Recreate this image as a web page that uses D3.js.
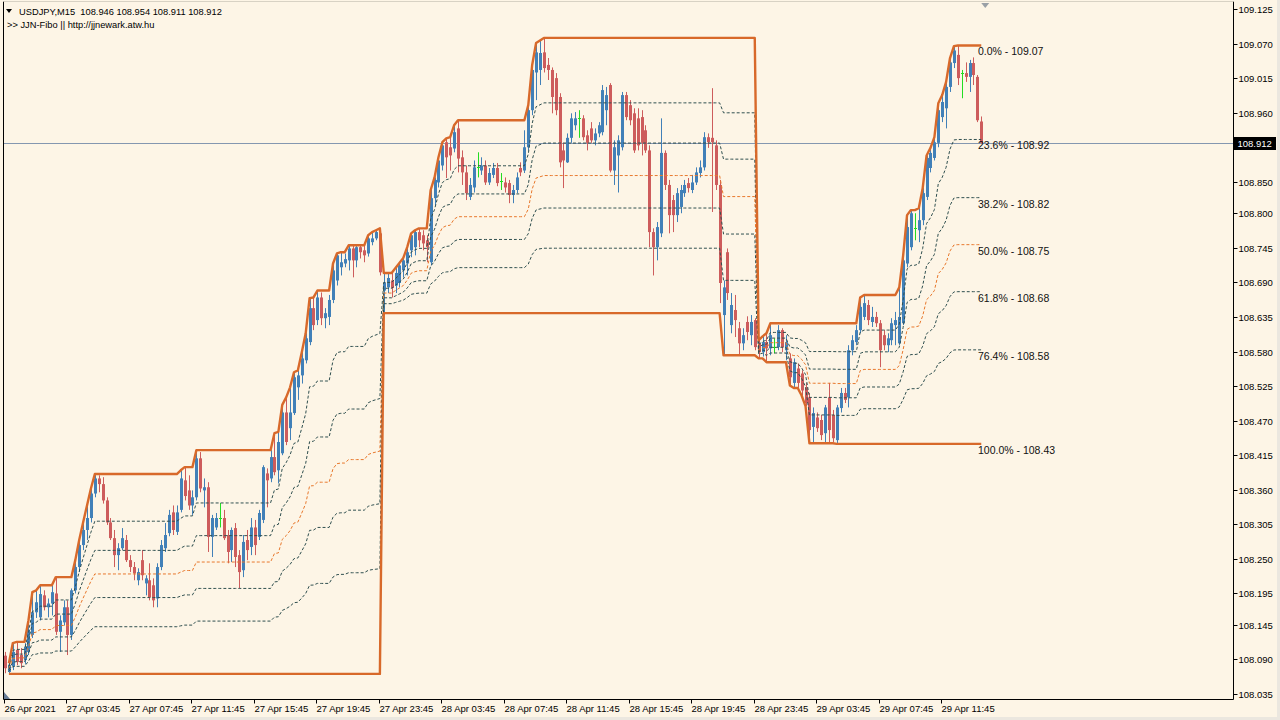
<!DOCTYPE html>
<html><head><meta charset="utf-8">
<script src="https://cdn.jsdelivr.net/npm/d3@7"></script>
<style>html,body{margin:0;padding:0;background:#fdf5e6;}svg{display:block;}</style>
</head><body>
<svg id="chart" width="1280" height="720"></svg>
<script>
// ---------------- DATA ----------------
const symbolTitle = "USDJPY,M15";
const indicatorTitle = ">> JJN-Fibo || http://jjnewark.atw.hu";

const open = [
108.096,108.070,108.079,108.105,108.097,108.089,108.102,108.129,108.165,108.157,
108.192,108.173,108.179,108.195,108.134,108.149,108.173,108.129,108.200,108.237,
108.272,108.296,108.315,108.354,108.378,108.369,108.343,108.308,108.283,108.256,
108.267,108.280,108.248,108.237,108.216,108.248,108.211,108.216,108.208,108.187,
108.237,108.267,108.291,108.324,108.293,108.328,108.375,108.359,108.335,108.348,
108.410,108.359,108.364,108.285,108.300,108.315,108.315,108.288,108.264,108.299,
108.256,108.232,108.280,108.269,108.300,108.285,108.312,108.386,108.378,108.412,
108.391,108.418,108.483,108.458,108.482,108.523,108.542,108.566,108.595,108.649,
108.630,108.666,108.633,108.635,108.662,108.693,108.714,108.720,108.725,108.744,
108.725,108.746,108.741,108.736,108.754,108.760,108.768,108.677,108.682,108.693,
108.685,108.689,108.709,108.720,108.741,108.746,108.770,108.765,108.757,108.722,
108.824,108.849,108.876,108.913,108.905,108.903,108.935,108.889,108.865,108.826,
108.841,108.873,108.868,108.876,108.849,108.861,108.872,108.851,108.849,108.848,
108.829,108.837,108.872,108.868,108.905,108.964,109.024,109.028,109.056,109.036,
109.028,109.015,108.985,108.900,108.881,108.920,108.940,108.951,108.951,108.924,
108.935,108.916,108.927,108.929,108.964,109.004,108.868,108.892,108.905,108.988,
108.972,108.959,108.951,108.953,108.932,108.900,108.770,108.746,108.768,108.896,
108.845,108.821,108.797,108.810,108.832,108.848,108.837,108.849,108.864,108.873,
108.921,108.920,108.908,108.845,108.638,108.738,108.622,108.646,108.617,108.593,
108.627,108.606,108.630,108.593,108.579,108.595,108.585,108.587,108.587,108.614,
108.582,108.569,108.530,108.553,108.545,108.523,108.507,108.460,108.475,108.471,
108.450,108.507,108.479,108.439,108.490,108.514,108.507,108.582,108.595,108.614,
108.635,108.654,108.627,108.635,108.625,108.606,108.590,108.598,108.622,108.593,
108.625,108.720,108.746,108.776,108.773,108.789,108.826,108.872,108.888,108.912,
108.953,108.967,109.001,109.039,109.052,109.023,109.023,109.017,109.039,109.017,
108.946];

const high = [
108.102,108.084,108.116,108.118,108.108,108.116,108.152,108.197,108.200,108.208,
108.200,108.187,108.208,108.221,108.160,108.184,108.184,108.203,108.248,108.280,
108.308,108.335,108.362,108.385,108.383,108.380,108.348,108.315,108.296,108.275,
108.299,108.288,108.256,108.245,108.235,108.264,108.224,108.243,108.219,108.243,
108.280,108.307,108.328,108.335,108.335,108.391,108.396,108.383,108.359,108.423,
108.420,108.378,108.372,108.320,108.323,108.339,108.328,108.296,108.300,108.307,
108.264,108.288,108.296,108.315,108.312,108.328,108.399,108.394,108.423,108.450,
108.452,108.495,108.507,108.523,108.547,108.550,108.579,108.609,108.665,108.666,
108.677,108.674,108.649,108.670,108.720,108.736,108.738,108.736,108.749,108.749,
108.749,108.749,108.749,108.765,108.770,108.773,108.776,108.705,108.705,108.705,
108.713,108.721,108.729,108.746,108.768,108.773,108.776,108.773,108.765,108.837,
108.857,108.889,108.913,108.919,108.921,108.940,108.948,108.900,108.876,108.856,
108.884,108.897,108.889,108.884,108.872,108.880,108.880,108.864,108.857,108.853,
108.845,108.865,108.881,108.932,108.972,109.036,109.071,109.075,109.079,109.047,
109.032,109.023,108.991,108.912,108.927,108.959,108.961,108.964,108.956,108.932,
108.945,108.935,108.945,109.004,109.001,109.007,108.916,108.924,108.993,108.993,
108.980,108.967,108.967,108.964,108.940,108.908,108.776,108.786,108.951,108.900,
108.853,108.829,108.840,108.845,108.853,108.856,108.861,108.873,108.884,108.929,
108.927,108.999,108.916,108.853,108.693,108.744,108.673,108.670,108.627,108.617,
108.636,108.638,108.633,108.598,108.604,108.609,108.625,108.601,108.622,108.617,
108.606,108.577,108.569,108.561,108.550,108.530,108.514,108.491,108.483,108.479,
108.495,108.530,108.487,108.495,108.522,108.522,108.590,108.606,108.622,108.666,
108.670,108.662,108.651,108.643,108.630,108.614,108.609,108.633,108.643,108.682,
108.733,108.797,108.805,108.800,108.808,108.840,108.892,108.904,108.921,108.975,
108.988,109.009,109.047,109.066,109.067,109.028,109.040,109.044,109.048,109.020,
108.954];

const low = [
108.068,108.067,108.073,108.081,108.076,108.083,108.097,108.124,108.156,108.152,
108.168,108.157,108.160,108.129,108.102,108.144,108.097,108.121,108.195,108.229,
108.264,108.280,108.308,108.348,108.356,108.338,108.304,108.280,108.237,108.232,
108.264,108.245,108.229,108.216,108.208,108.216,108.192,108.184,108.173,108.173,
108.232,108.261,108.286,108.288,108.288,108.324,108.343,108.328,108.320,108.343,
108.356,108.332,108.261,108.253,108.296,108.300,108.280,108.243,108.245,108.237,
108.203,108.221,108.248,108.256,108.256,108.280,108.307,108.332,108.372,108.383,
108.370,108.415,108.431,108.439,108.479,108.503,108.529,108.561,108.590,108.614,
108.622,108.622,108.617,108.622,108.657,108.685,108.701,108.714,108.709,108.698,
108.714,108.728,108.722,108.731,108.749,108.757,108.701,108.641,108.673,108.666,
108.673,108.682,108.698,108.701,108.730,108.733,108.746,108.741,108.722,108.717,
108.813,108.841,108.868,108.856,108.868,108.897,108.865,108.845,108.821,108.821,
108.833,108.857,108.861,108.845,108.845,108.856,108.843,108.837,108.833,108.816,
108.816,108.832,108.859,108.864,108.900,108.956,108.980,109.004,109.024,109.012,
108.959,108.956,108.873,108.840,108.880,108.912,108.932,108.920,108.916,108.900,
108.912,108.908,108.921,108.924,108.940,108.865,108.845,108.833,108.900,108.948,
108.940,108.896,108.900,108.892,108.896,108.746,108.701,108.725,108.762,108.837,
108.768,108.770,108.786,108.800,108.826,108.833,108.832,108.845,108.857,108.868,
108.904,108.802,108.837,108.657,108.574,108.662,108.609,108.603,108.574,108.582,
108.598,108.590,108.582,108.569,108.572,108.563,108.574,108.577,108.582,108.579,
108.566,108.526,108.522,108.522,108.510,108.493,108.434,108.436,108.452,108.439,
108.434,108.434,108.436,108.433,108.483,108.498,108.491,108.574,108.590,108.609,
108.630,108.622,108.619,108.619,108.555,108.582,108.579,108.590,108.590,108.590,
108.622,108.714,108.741,108.757,108.754,108.781,108.821,108.865,108.884,108.905,
108.945,108.935,108.993,109.031,109.004,108.983,109.009,108.993,109.004,108.945,
108.911];

const close = [
108.076,108.081,108.102,108.086,108.084,108.110,108.137,108.165,108.181,108.194,
108.173,108.179,108.197,108.134,108.152,108.173,108.129,108.200,108.237,108.272,
108.296,108.315,108.354,108.378,108.369,108.343,108.308,108.283,108.256,108.267,
108.283,108.248,108.237,108.227,108.229,108.224,108.219,108.189,108.184,108.237,
108.272,108.288,108.320,108.296,108.324,108.378,108.350,108.335,108.348,108.410,
108.362,108.364,108.285,108.315,108.315,108.315,108.283,108.261,108.296,108.253,
108.229,108.277,108.264,108.300,108.272,108.323,108.396,108.375,108.412,108.388,
108.436,108.483,108.436,108.483,108.539,108.542,108.569,108.601,108.649,108.622,
108.666,108.633,108.641,108.662,108.709,108.733,108.722,108.727,108.744,108.725,
108.746,108.738,108.733,108.760,108.760,108.770,108.706,108.690,108.697,108.681,
108.705,108.717,108.725,108.738,108.765,108.770,108.757,108.752,108.746,108.824,
108.853,108.884,108.908,108.889,108.892,108.929,108.887,108.865,108.832,108.845,
108.873,108.873,108.876,108.849,108.864,108.872,108.848,108.851,108.841,108.829,
108.837,108.857,108.865,108.905,108.964,109.028,109.056,109.055,109.031,109.028,
108.985,108.964,108.881,108.884,108.920,108.951,108.951,108.951,108.921,108.912,
108.916,108.927,108.940,108.996,108.988,108.868,108.905,108.916,108.988,108.953,
108.948,108.900,108.908,108.912,108.900,108.770,108.746,108.778,108.896,108.845,
108.797,108.797,108.832,108.837,108.845,108.840,108.849,108.865,108.873,108.921,
108.913,108.913,108.845,108.689,108.682,108.673,108.654,108.630,108.593,108.606,
108.611,108.627,108.587,108.579,108.595,108.585,108.606,108.587,108.614,108.587,
108.595,108.539,108.563,108.530,108.518,108.498,108.455,108.482,108.458,108.447,
108.491,108.455,108.442,108.491,108.514,108.503,108.582,108.598,108.614,108.651,
108.657,108.630,108.635,108.625,108.582,108.590,108.601,108.625,108.630,108.635,
108.725,108.778,108.800,108.776,108.789,108.832,108.888,108.896,108.913,108.964,
108.977,109.001,109.040,109.059,109.015,109.023,109.017,109.039,109.020,108.948,
108.912];

// first bar of each trading day (indicator resets there)
const dayStarts = [1, 97, 193];
const fibLevels = [0.236, 0.382, 0.5, 0.618, 0.764];
const priceTicks = [109.125,109.070,109.015,108.960,108.905,108.850,108.800,108.745,108.690,108.635,
  108.580,108.525,108.470,108.415,108.360,108.305,108.250,108.195,108.145,108.090,108.035];
const timeTickIndex = [0,16,32,48,64,80,96,112,128,144,160,176,192,208,224,240];
const timeTickLabels = ["26 Apr 2021","27 Apr 03:45","27 Apr 07:45","27 Apr 11:45","27 Apr 15:45",
  "27 Apr 19:45","27 Apr 23:45","28 Apr 03:45","28 Apr 07:45","28 Apr 11:45","28 Apr 15:45",
  "28 Apr 19:45","28 Apr 23:45","29 Apr 03:45","29 Apr 07:45","29 Apr 11:45"];

// ---------------- CHART ----------------
const W = 1280, H = 720;
const plotL = 3.5, plotR = 1233.5, plotT = 1.5, plotB = 699.5;
const N = close.length;
const FONT = "'Liberation Sans', Arial, sans-serif";
const BULL = "#4180b8", BEAR = "#cd5c5c", DOJI = "#22dd22";
const FIBDARK = "#2f4f4f", FIBORANGE = "#e8782c", HL = "#d8692a";

const svg = d3.select("#chart");
svg.append("rect").attr("width", W).attr("height", H).attr("fill", "#fdf5e6");

const x = d3.scaleLinear().domain([0, 250]).range([5, 5 + 3.905 * 250]);
const y = d3.scaleLinear().domain([108.035, 109.125]).range([694, 9]);

svg.append("clipPath").attr("id", "plotclip")
  .append("rect").attr("x", plotL + 0.5).attr("y", plotT + 0.5)
  .attr("width", plotR - plotL - 1).attr("height", plotB - plotT - 1);

const plot = svg.append("g").attr("clip-path", "url(#plotclip)");

// current price line
const lastClose = close[N - 1];
const py = Math.round(y(lastClose)) + 0.5;
plot.append("line").attr("x1", plotL).attr("x2", plotR).attr("y1", py).attr("y2", py)
  .attr("stroke", "#8497b0").attr("stroke-width", 1);

// candles
const idx = d3.range(N);
const cg = plot.append("g");
idx.forEach(i => {
  const o = open[i], c = close[i];
  const col = c > o ? BULL : (c < o ? BEAR : DOJI);
  const cx = Math.round(x(i));
  cg.append("line").attr("x1", cx + 0.5).attr("x2", cx + 0.5)
    .attr("y1", y(high[i])).attr("y2", y(low[i]))
    .attr("stroke", col).attr("stroke-width", 1);
  if (c === o) {
    cg.append("line").attr("x1", cx - 1).attr("x2", cx + 2)
      .attr("y1", Math.round(y(o)) + 0.5).attr("y2", Math.round(y(o)) + 0.5)
      .attr("stroke", col).attr("stroke-width", 1);
  } else {
    const yt = y(Math.max(o, c)), yb = y(Math.min(o, c));
    cg.append("rect").attr("x", cx - 1).attr("width", 3)
      .attr("y", yt).attr("height", Math.max(1, yb - yt)).attr("fill", col);
  }
});

// indicator: daily running high / low and fib levels
const topV = new Array(N).fill(null), botV = new Array(N).fill(null);
dayStarts.forEach((s, k) => {
  const e = k + 1 < dayStarts.length ? dayStarts[k + 1] : N;
  let hi = -Infinity, lo = Infinity;
  for (let i = s; i < e; i++) {
    hi = Math.max(hi, high[i]); lo = Math.min(lo, low[i]);
    topV[i] = hi; botV[i] = lo;
  }
});
const ind = d3.range(dayStarts[0], N);
const lineGen = f => d3.line().x(i => x(i)).y(i => y(f(i)))(ind);

fibLevels.forEach(p => {
  plot.append("path").attr("d", lineGen(i => topV[i] - p * (topV[i] - botV[i])))
    .attr("fill", "none").attr("stroke", p === 0.5 ? FIBORANGE : FIBDARK)
    .attr("stroke-width", 1).attr("stroke-dasharray", "3,2");
});
[topV, botV].forEach(arr => {
  plot.append("path").attr("d", lineGen(i => arr[i]))
    .attr("fill", "none").attr("stroke", HL).attr("stroke-width", 2.4)
    .attr("stroke-linejoin", "round");
});

// fib labels for the last day
const lt = topV[N - 1], lb = botV[N - 1];
[0, ...fibLevels, 1].forEach(p => {
  const v = lt - p * (lt - lb);
  plot.append("text").attr("x", 978).attr("y", y(v) + 10)
    .attr("font-family", FONT).attr("font-size", "10.5px").attr("fill", "#111")
    .text(`${(p * 100).toFixed(1)}% - ${v.toFixed(2)}`);
});

// shift marker at top
const mx = x(N - 1) + 4;
svg.append("path").attr("d", `M${mx - 4},3 L${mx + 4},3 L${mx},8 Z`).attr("fill", "#9aa0a6");

// frame
svg.append("line").attr("x1", plotL).attr("x2", plotL).attr("y1", plotT).attr("y2", plotB).attr("stroke", "#000");
svg.append("line").attr("x1", plotR).attr("x2", plotR).attr("y1", plotT).attr("y2", plotB).attr("stroke", "#000");
svg.append("line").attr("x1", plotL).attr("x2", plotR).attr("y1", plotB).attr("y2", plotB).attr("stroke", "#000");
svg.append("line").attr("x1", plotL).attr("x2", plotR).attr("y1", plotT).attr("y2", plotT).attr("stroke", "#d8d2c4");
svg.append("path").attr("d", `M4,692 L4,699 L10,699 Z`).attr("fill", "#6b7f99");

// price axis (the tick hidden behind the current-price box keeps only its mark)
const pa = svg.append("g");
priceTicks.forEach(v => {
  const ty = Math.round(y(v)) + 0.5;
  pa.append("line").attr("x1", plotR).attr("x2", plotR + 4).attr("y1", ty).attr("y2", ty).attr("stroke", "#000");
  if (Math.abs(ty - py) > 10) {
    pa.append("text").attr("x", plotR + 5).attr("y", ty + 3.5)
      .attr("font-family", FONT).attr("font-size", "9.5px").attr("fill", "#000")
      .text(v.toFixed(3));
  }
});
pa.append("rect").attr("x", plotR + 0.5).attr("y", py - 6.5).attr("width", 42).attr("height", 13).attr("fill", "#000");
pa.append("text").attr("x", plotR + 4).attr("y", py + 3.5)
  .attr("font-family", FONT).attr("font-size", "9.5px").attr("fill", "#fff")
  .text(lastClose.toFixed(3));

// time axis
const ta = svg.append("g");
timeTickIndex.forEach((i, k) => {
  const tx = Math.round(x(i)) - 0.5;
  ta.append("line").attr("x1", tx).attr("x2", tx).attr("y1", plotB).attr("y2", plotB + 4).attr("stroke", "#000");
  ta.append("text").attr("x", tx).attr("y", 712)
    .attr("font-family", FONT).attr("font-size", "9.5px").attr("fill", "#000")
    .text(timeTickLabels[k]);
});

// header
svg.append("path").attr("d", "M6,9 L12,9 L9,13 Z").attr("fill", "#000");
svg.append("text").attr("x", 19).attr("y", 15).attr("font-family", FONT).attr("font-size", "9.3px")
  .attr("fill", "#000").style("white-space", "pre")
  .text(`${symbolTitle}  ${open[N-1].toFixed(3)} ${high[N-1].toFixed(3)} ${low[N-1].toFixed(3)} ${close[N-1].toFixed(3)}`);
svg.append("text").attr("x", 7).attr("y", 27.5).attr("font-family", FONT).attr("font-size", "9.3px")
  .attr("fill", "#000").text(indicatorTitle);

// window edges
svg.append("rect").attr("x", 0).attr("y", 717).attr("width", W).attr("height", 3).attr("fill", "#ebe7df");
svg.append("rect").attr("x", 1277).attr("y", 0).attr("width", 3).attr("height", H).attr("fill", "#ebe7df");
</script>
</body></html>
